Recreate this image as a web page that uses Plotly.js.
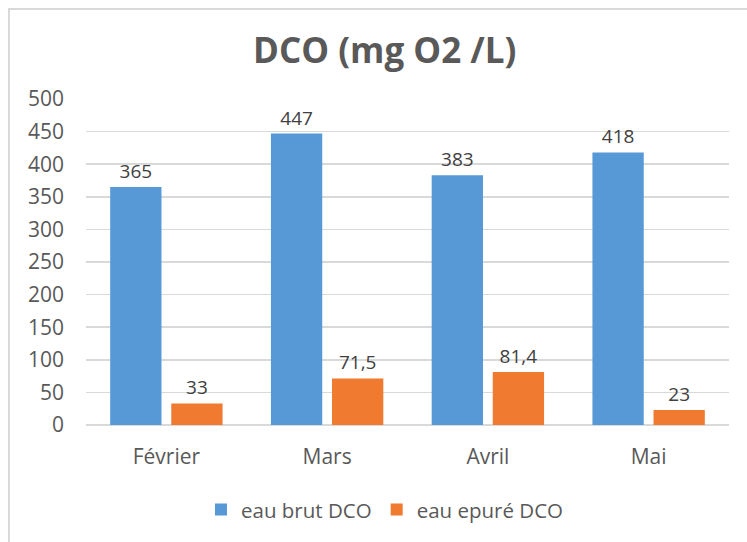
<!DOCTYPE html>
<html>
<head>
<meta charset="utf-8">
<script src="https://cdn.plot.ly/plotly-3.0.1.min.js"></script>
<style>
html,body{margin:0;padding:0;background:#fff;}
#wrap{position:relative;width:747px;height:542px;}
#chart{position:absolute;left:0;top:0;width:747px;height:542px;}
#frame{position:absolute;left:8px;top:8px;width:760px;height:560px;border-left:2px solid #d9d9d9;border-top:2px solid #d9d9d9;pointer-events:none;}
</style>
</head>
<body>
<div id="wrap"><div id="chart"></div><div id="frame"></div></div>
<script>
const categories = ["Février", "Mars", "Avril", "Mai"];
const seriesNames = ["eau brut DCO", "eau epuré DCO"];
const brut = [365, 447, 383, 418];
const epure = [33, 71.5, 81.4, 23];
const brutLabels = ["365", "447", "383", "418"];
const epureLabels = ["33", "71,5", "81,4", "23"];
const yTicks = [0, 50, 100, 150, 200, 250, 300, 350, 400, 450, 500];

const labelFont = {family: "Open Sans, sans-serif", size: 19, color: "#404040"};
const axisFont = {family: "Open Sans, sans-serif", size: 21, color: "#595959"};

const traces = [
  {type: "bar", name: seriesNames[0], x: categories, y: brut, text: brutLabels,
   textposition: "outside", textfont: labelFont, cliponaxis: false, hoverinfo: "none",
   marker: {color: "#5799d6"}},
  {type: "bar", name: seriesNames[1], x: categories, y: epure, text: epureLabels,
   textposition: "outside", textfont: labelFont, cliponaxis: false, hoverinfo: "none",
   marker: {color: "#ef7a30"}}
];

const layout = {
  width: 747, height: 542,
  margin: {l: 86, r: 18, t: 99, b: 117},
  paper_bgcolor: "#ffffff", plot_bgcolor: "#ffffff",
  title: {text: "<b>DCO (mg O2 /L)</b>", x: 0.515, xanchor: "center", y: 0.906, yanchor: "middle",
          font: {family: "Open Sans, sans-serif", size: 35, color: "#595959"}},
  barmode: "group", bargap: 0.24, bargroupgap: 0.16,
  showlegend: true,
  legend: {orientation: "h", x: 0.465, xanchor: "center", y: -0.26, yanchor: "middle",
           font: {family: "Open Sans, sans-serif", size: 20.5, color: "#595959"},
           itemwidth: 30, traceorder: "normal"},
  xaxis: {tickfont: axisFont,
          showline: false, showgrid: false, zeroline: false, ticks: "", ticklabelstandoff: 17},
  yaxis: {range: [0, 500], tickvals: yTicks, ticktext: yTicks.map(String),
          tickfont: axisFont,
          showgrid: true, gridcolor: "#d9d9d9", gridwidth: 1.5,
          zeroline: true, zerolinecolor: "#d9d9d9", zerolinewidth: 1.5,
          showline: false, ticks: "", ticklabelstandoff: 21, fixedrange: true}
};

Plotly.newPlot("chart", traces, layout, {staticPlot: true, displayModeBar: false});
</script>
</body>
</html>
